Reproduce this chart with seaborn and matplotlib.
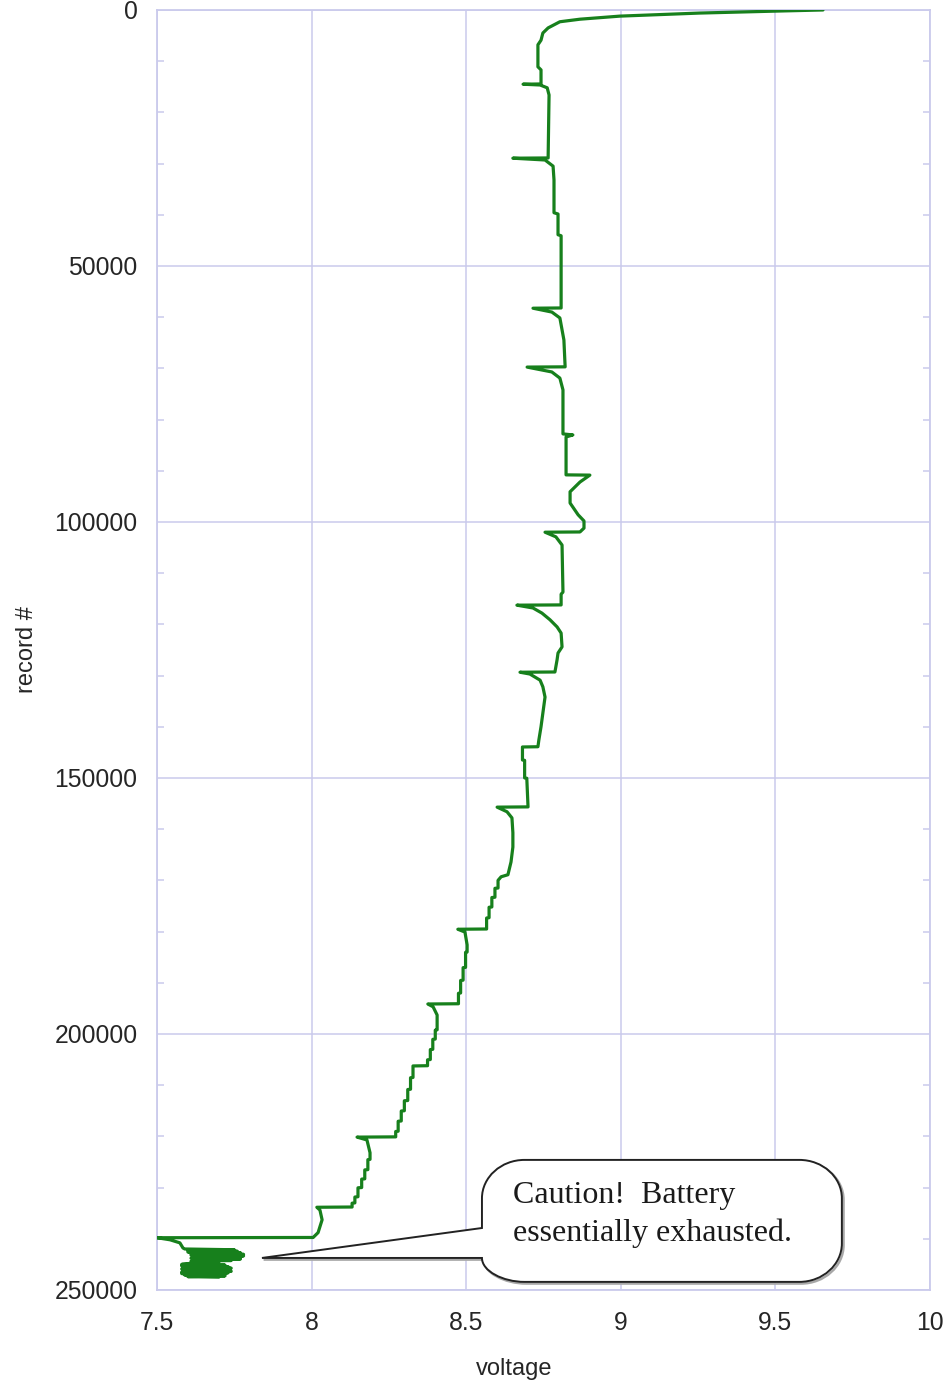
import matplotlib
matplotlib.use("Agg")
import matplotlib.pyplot as plt
import matplotlib.transforms as mtransforms
from matplotlib.path import Path
from matplotlib.patches import PathPatch
from matplotlib.ticker import MultipleLocator, FixedLocator, FixedFormatter
import pandas as pd
import seaborn as sns

# Battery voltage logged against record number (discharge run)
record = [
    0, 200, 600, 1200, 1800, 2300, 3500, 4500, 5900, 6800,
    11100, 11700, 14450, 14500, 14650, 15200, 16600, 28300, 28900, 28950,
    29300, 30500, 33200, 39600, 39850, 43900, 44100, 58200, 58250, 59000,
    60150, 62500, 64450, 69700, 69750, 70700, 71900, 74200, 82800, 83000,
    83400, 90800, 90850, 92200, 94100, 96300, 98600, 99800, 101200, 101950,
    102000, 102900, 104500, 113700, 114100, 116200, 116250, 116800, 117800, 119100,
    120500, 121700, 124400, 125600, 126900, 129300, 129350, 129700, 130900, 132200,
    134200, 137300, 140000, 142600, 143900, 143950, 146500, 146550, 150000, 150050,
    155650, 155700, 156600, 157800, 160700, 163500, 166400, 168900, 169300, 170000,
    171500, 171550, 173300, 173350, 175200, 175250, 177300, 177350, 179500, 179550,
    180100, 182600, 184000, 184050, 187000, 187050, 189500, 189550, 192000, 192050,
    194100, 194150, 194700, 196300, 199200, 199250, 201000, 201050, 203000, 203050,
    205000, 205050, 206200, 206250, 208500, 208550, 210800, 210850, 213000, 213050,
    215000, 215050, 217000, 217050, 219000, 219050, 220100, 220150, 220700, 223200,
    224500, 224550, 226500, 226550, 228300, 228350, 230000, 230050, 231800, 231850,
    233000, 233050, 233800, 233850, 234400, 236300, 238800, 239750, 239800, 240200,
    240800, 241800,
    # end-of-life oscillation
    242000, 242150, 242300, 242450, 242600, 242750, 242900, 243050, 243200, 243350,
    243500, 243650, 243800, 243950, 244100, 244250, 244400, 244550, 244700, 244850,
    245000, 245150, 245300, 245450, 245600, 245750, 245900, 246050, 246200, 246350,
    246500, 246650, 246800, 246950, 247100, 247250, 247400, 247500,
]
voltage = [
    9.654, 9.515, 9.256, 8.997, 8.868, 8.803, 8.765, 8.748, 8.742, 8.732,
    8.732, 8.742, 8.742, 8.684, 8.739, 8.762, 8.768, 8.765, 8.765, 8.651,
    8.755, 8.781, 8.784, 8.784, 8.797, 8.797, 8.807, 8.807, 8.716, 8.777,
    8.803, 8.810, 8.816, 8.820, 8.697, 8.777, 8.803, 8.813, 8.813, 8.845,
    8.823, 8.823, 8.900, 8.868, 8.836, 8.836, 8.862, 8.881, 8.881, 8.868,
    8.755, 8.790, 8.810, 8.813, 8.807, 8.807, 8.664, 8.716, 8.745, 8.771,
    8.794, 8.807, 8.810, 8.797, 8.794, 8.787, 8.674, 8.706, 8.739, 8.748,
    8.755, 8.748, 8.742, 8.735, 8.732, 8.682, 8.682, 8.689, 8.689, 8.696,
    8.700, 8.600, 8.632, 8.648, 8.651, 8.651, 8.645, 8.635, 8.613, 8.603,
    8.603, 8.593, 8.593, 8.583, 8.583, 8.574, 8.574, 8.566, 8.566, 8.473,
    8.496, 8.503, 8.503, 8.498, 8.498, 8.490, 8.490, 8.482, 8.482, 8.475,
    8.475, 8.376, 8.393, 8.406, 8.406, 8.400, 8.400, 8.392, 8.392, 8.384,
    8.384, 8.375, 8.375, 8.328, 8.328, 8.320, 8.320, 8.311, 8.311, 8.300,
    8.300, 8.290, 8.290, 8.280, 8.280, 8.272, 8.272, 8.147, 8.179, 8.189,
    8.189, 8.182, 8.182, 8.172, 8.172, 8.162, 8.162, 8.150, 8.150, 8.140,
    8.140, 8.131, 8.131, 8.017, 8.027, 8.034, 8.021, 8.005, 7.500, 7.542,
    7.574, 7.584,
    7.590, 7.750, 7.600, 7.760, 7.600, 7.770, 7.610, 7.780, 7.610, 7.780,
    7.620, 7.770, 7.610, 7.770, 7.620, 7.740, 7.610, 7.700, 7.640, 7.600,
    7.580, 7.720, 7.580, 7.730, 7.590, 7.740, 7.580, 7.730, 7.590, 7.740,
    7.580, 7.730, 7.580, 7.720, 7.590, 7.720, 7.600, 7.700,
]

x_ticks = [7.5, 8.0, 8.5, 9.0, 9.5, 10.0]
x_tick_labels = ["7.5", "8", "8.5", "9", "9.5", "10"]
y_ticks = [0, 50000, 100000, 150000, 200000, 250000]
y_tick_labels = ["0", "50000", "100000", "150000", "200000", "250000"]

callout_text = "Caution!  Battery\nessentially exhausted."

LINE_GREEN = "#17801c"
GRID = "#cacaec"
TEXT = "#262626"

sns.set_theme(style="white")
plt.rcParams["font.family"] = ["Liberation Sans", "DejaVu Sans"]

fig = plt.figure(figsize=(9.48, 13.86), dpi=100)
ax = fig.add_axes([0.1656, 0.0693, 0.8154, 0.9235])

df = pd.DataFrame({"voltage": voltage, "record": record})
sns.lineplot(data=df, x="voltage", y="record", sort=False, estimator=None,
             color=LINE_GREEN, linewidth=2.3, ax=ax, zorder=3)

ax.set_xlim(7.5, 10.0)
ax.set_ylim(250000, 0)

ax.xaxis.set_major_locator(FixedLocator(x_ticks))
ax.xaxis.set_major_formatter(FixedFormatter(x_tick_labels))
ax.yaxis.set_major_locator(FixedLocator(y_ticks))
ax.yaxis.set_major_formatter(FixedFormatter(y_tick_labels))
ax.yaxis.set_minor_locator(MultipleLocator(10000))

ax.grid(True, which="major", color=GRID, linewidth=1.1)
ax.set_axisbelow(True)
for sp in ax.spines.values():
    sp.set_color(GRID)
    sp.set_linewidth(1.3)

ax.tick_params(axis="both", which="major", length=0, labelsize=17.8,
               labelcolor=TEXT)
ax.tick_params(axis="x", which="major", pad=15)
ax.tick_params(axis="y", which="major", pad=14)
ax.tick_params(axis="y", which="minor", left=True, right=True, direction="in",
               length=5, width=1.1, color=GRID)

ax.set_xlabel("voltage", fontsize=17, color=TEXT)
ax.xaxis.set_label_coords(0.462, -0.053)
ax.set_ylabel("record #", fontsize=17, color=TEXT, labelpad=12)

# Speech-bubble callout (axes-fraction coordinates)
L, R, T, B = 0.4204, 0.886, 0.1016, 0.0063
tip = (0.1358, 0.025)
up_base = 0.0484
lo_base = 0.025
rx, ry = 0.055, 0.030
k = 0.55
verts = [
    tip,
    (L, lo_base),
    (L, lo_base - k * (lo_base - B)), (L + k * rx * 0.9, B), (L + rx, B),
    (R - rx, B),
    (R - rx + k * rx, B), (R, B + ry - k * ry), (R, B + ry),
    (R, T - ry),
    (R, T - ry + k * ry), (R - rx + k * rx, T), (R - rx, T),
    (L + rx, T),
    (L + rx - k * rx, T), (L, T - ry + k * ry), (L, T - ry),
    (L, up_base),
    tip,
]
codes = [
    Path.MOVETO, Path.LINETO,
    Path.CURVE4, Path.CURVE4, Path.CURVE4,
    Path.LINETO,
    Path.CURVE4, Path.CURVE4, Path.CURVE4,
    Path.LINETO,
    Path.CURVE4, Path.CURVE4, Path.CURVE4,
    Path.LINETO,
    Path.CURVE4, Path.CURVE4, Path.CURVE4,
    Path.LINETO,
    Path.CLOSEPOLY,
]
bubble = Path(verts, codes)
shadow_tf = ax.transAxes + mtransforms.ScaledTranslation(1.2 / 72, -1.2 / 72,
                                                          fig.dpi_scale_trans)
ax.add_patch(PathPatch(bubble, transform=shadow_tf, facecolor="none",
                       edgecolor="#a8a8a8", linewidth=1.8, zorder=4,
                       clip_on=False))
ax.add_patch(PathPatch(bubble, transform=ax.transAxes, facecolor="white",
                       edgecolor="#222222", linewidth=1.4, zorder=5,
                       clip_on=False, joinstyle="miter"))

ax.text(0.4605, 0.0590, callout_text, transform=ax.transAxes,
        ha="left", va="center", fontsize=23, linespacing=1.4,
        family=["Liberation Serif", "DejaVu Serif"], color="#1a1a1a", zorder=6)

fig.savefig("out.png", dpi=100)
